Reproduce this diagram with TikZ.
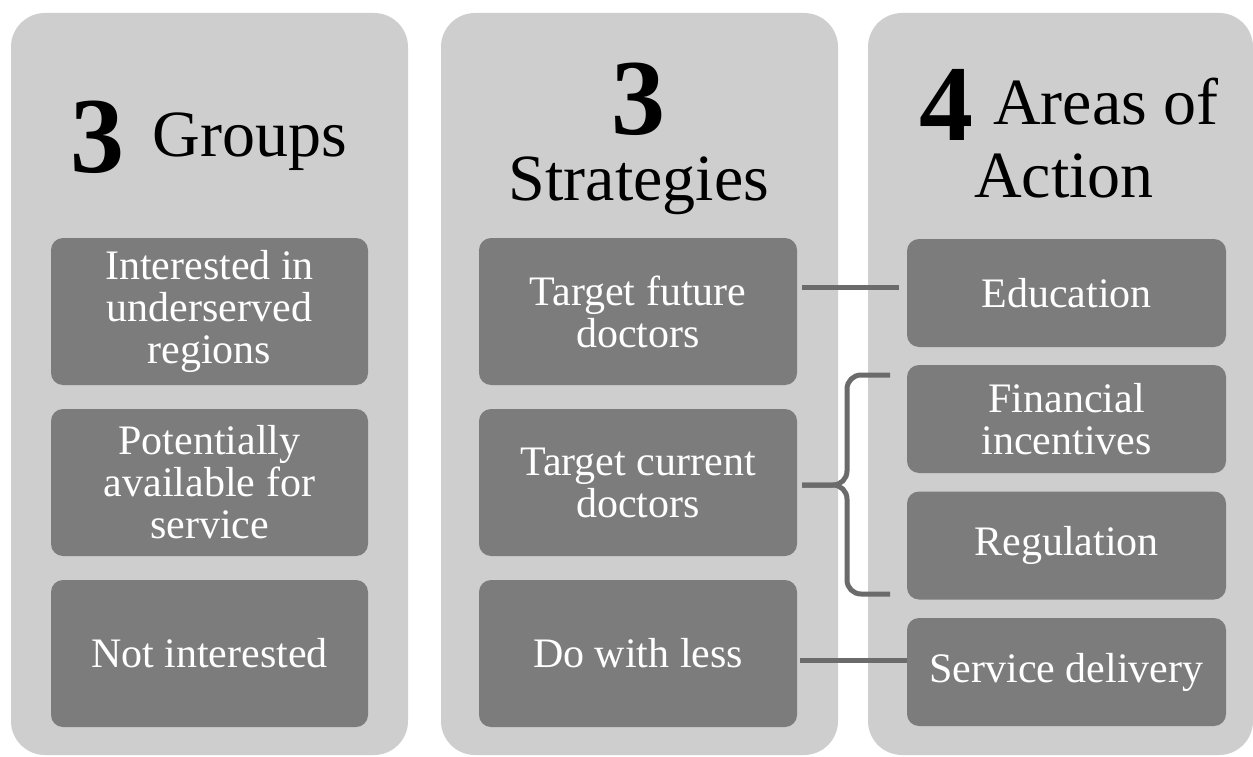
\documentclass[tikz,border=0pt]{standalone}
\usepackage{fontspec}
\setmainfont{Liberation Serif}
\usetikzlibrary{positioning}
\definecolor{panelgray}{HTML}{CECECE}
\definecolor{boxgray}{HTML}{7C7C7C}
\definecolor{linkgray}{HTML}{6B6B6B}
\begin{document}
\begin{tikzpicture}[x=1pt,y=-1pt,
  panel/.style={fill=panelgray,rounded corners=34pt,inner sep=0pt},
  item/.style={fill=boxgray,rounded corners=12pt,text=white,align=center,inner sep=0pt,
    font=\fontsize{42}{42}\selectfont},
  bignum/.style={anchor=base,inner sep=0pt,font=\fontsize{108}{108}\selectfont\bfseries},
  head/.style={anchor=base,inner sep=0pt,font=\fontsize{66}{66}\selectfont},
  link/.style={draw=linkgray,line width=5pt}]
  \useasboundingbox[fill=white] (0,0) rectangle (1253,757);

  \node[panel,minimum width=397pt,minimum height=742pt] (groups) at (209.5,384) {};
  \node[panel,minimum width=397pt,minimum height=742pt] (strats) at (639.5,384) {};
  \node[panel,minimum width=385pt,minimum height=742pt] (areas) at (1060.5,384) {};

  \node[bignum] (n1) at (97.5,172) {3};
  \node[head] (h1) at (250,157) {Groups};
  \node[bignum] (n2) at (638,135) {3};
  \node[head] (h2) at (639,200) {Strategies};
  \node[bignum] (n3) at (946,141) {4};
  \node[head] (h3) at (1106,125) {Areas of};
  \node[head] (h4) at (1064,197) {Action};

  \node[item,minimum width=317pt,minimum height=147pt] (inter) at (209.5,311.5) {Interested in\\underserved\\regions};
  \node[item,minimum width=317pt,minimum height=147pt] (avail) at (209.5,482.5) {Potentially\\available for\\service};
  \node[item,minimum width=317pt,minimum height=147pt] (notint) at (209.5,653.5) {Not interested};

  \node[item,minimum width=318pt,minimum height=147pt] (fut) at (638,311.5) {Target future\\doctors};
  \node[item,minimum width=318pt,minimum height=147pt] (cur) at (638,482.5) {Target current\\doctors};
  \node[item,minimum width=318pt,minimum height=147pt] (less) at (638,653.5) {Do with less};

  \node[item,minimum width=319pt,minimum height=108pt] (edu) at (1066.5,293) {Education};
  \node[item,minimum width=319pt,minimum height=108pt] (fin) at (1066.5,419) {Financial\\incentives};
  \node[item,minimum width=319pt,minimum height=108pt] (reg) at (1066.5,545.5) {Regulation};
  \node[item,minimum width=319pt,minimum height=108pt] (svc) at (1066.5,672) {Service delivery};

  \coordinate (btop) at (890,375);
  \coordinate (bbot) at (890,594);
  \coordinate (bmid) at (847,485);

  \draw[link,shorten <=5pt,shorten >=8pt] ([yshift=6pt]fut.east |- edu.west) -- ([yshift=6pt]edu.west);
  \draw[link,rounded corners=14pt] (btop) -- (btop -| bmid) -- (bmid) -- ([xshift=5pt]cur.east |- bmid);
  \draw[link,rounded corners=14pt] (bbot) -- (bbot -| bmid) -- (bmid) -- ([xshift=5pt]cur.east |- bmid);
  \draw[link,shorten <=3pt] ([yshift=-6.5pt]less.east) -- ([yshift=-6.5pt]less.east -| svc.west);
\end{tikzpicture}
\end{document}
